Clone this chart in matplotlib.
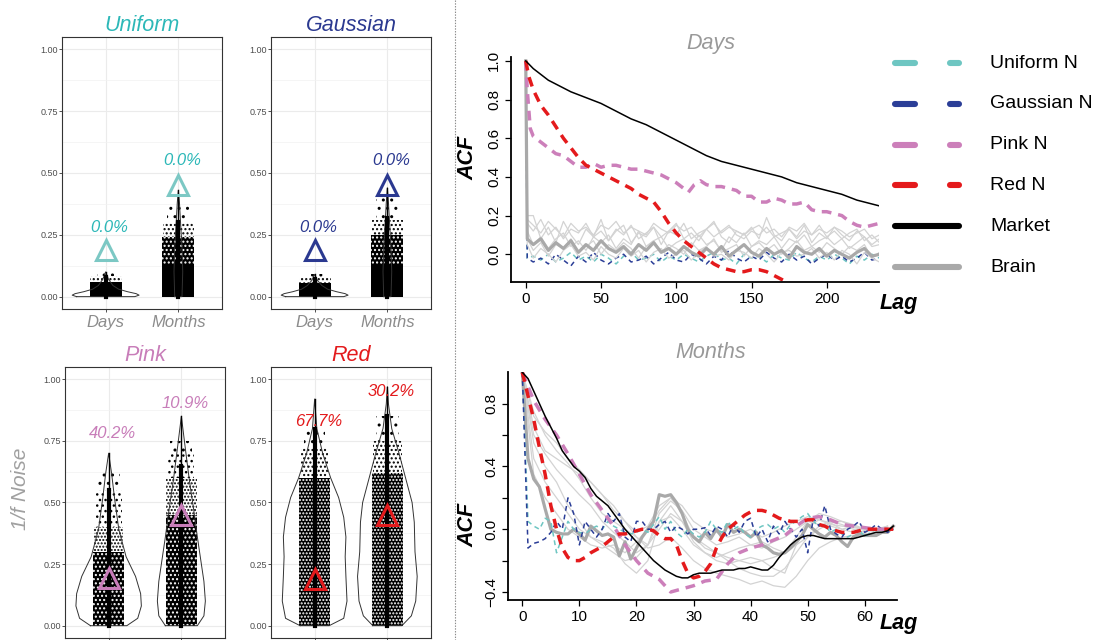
import numpy as np
import matplotlib
matplotlib.use("Agg")
import matplotlib.pyplot as plt
from matplotlib.patches import Rectangle

plt.rcParams['font.family'] = ['Liberation Sans', 'DejaVu Sans']
plt.rcParams['lines.scale_dashes'] = False
plt.rcParams['hatch.linewidth'] = 1.0

# ---------------- violin panels (left) ----------------
noise_names = ['Uniform', 'Gaussian', 'Pink', 'Red']
scales = ['Days', 'Months']
title_colors = ['#2DB8B8', '#2B3990', '#C87DB9', '#E31A1C']
marker_colors = ['#7CC8C4', '#2B3990', '#C87DB9', '#E31A1C']

pct_text = [['0.0%', '0.0%'], ['0.0%', '0.0%'], ['40.2%', '10.9%'], ['67.7%', '30.2%']]
pct_y = [[0.28, 0.55], [0.28, 0.55], [0.78, 0.90], [0.83, 0.95]]
market_y = [[0.19, 0.45], [0.19, 0.45], [0.195, 0.45], [0.19, 0.45]]
col_max = [[0.10, 0.43], [0.09, 0.44], [0.70, 0.85], [0.92, 0.97]]
col_dense = [[0.08, 0.30], [0.07, 0.32], [0.55, 0.65], [0.80, 0.85]]

vio_y = [
    [[0, 0.006, 0.012, 0.02, 0.03, 0.045, 0.07, 0.10], [0, 0.1, 0.2, 0.3, 0.38, 0.43]],
    [[0, 0.006, 0.012, 0.02, 0.03, 0.045, 0.065, 0.09], [0, 0.1, 0.2, 0.3, 0.38, 0.44]],
    [[0, 0.03, 0.08, 0.13, 0.2, 0.28, 0.39, 0.52, 0.62, 0.70],
     [0, 0.04, 0.1, 0.18, 0.26, 0.36, 0.47, 0.59, 0.73, 0.85]],
    [[0, 0.03, 0.1, 0.2, 0.28, 0.36, 0.44, 0.52, 0.6, 0.7, 0.8, 0.92],
     [0, 0.04, 0.1, 0.2, 0.3, 0.42, 0.5, 0.6, 0.7, 0.8, 0.9, 0.97]],
]
vio_hw = [
    [[0.40, 0.46, 0.42, 0.30, 0.18, 0.10, 0.04, 0.0], [0.05, 0.06, 0.05, 0.03, 0.015, 0.0]],
    [[0.40, 0.46, 0.42, 0.30, 0.18, 0.10, 0.04, 0.0], [0.05, 0.06, 0.05, 0.03, 0.015, 0.0]],
    [[0.25, 0.40, 0.45, 0.44, 0.37, 0.24, 0.14, 0.08, 0.04, 0.0],
     [0.22, 0.31, 0.33, 0.31, 0.27, 0.22, 0.17, 0.11, 0.05, 0.0]],
    [[0.20, 0.40, 0.445, 0.43, 0.42, 0.43, 0.40, 0.33, 0.22, 0.11, 0.03, 0.0],
     [0.20, 0.33, 0.39, 0.41, 0.38, 0.37, 0.34, 0.25, 0.16, 0.06, 0.015, 0.0]],
]

# jittered point clouds summarised as bands: edges, jitter half width, texture
# texture: 's' solid, 'wN' black with white gaps, 'bN' black dots on white (N = density)
cloud_edges = [
    [[0, 0.06, 0.085, 0.10], [0, 0.13, 0.24, 0.30, 0.38]],
    [[0, 0.055, 0.075, 0.09], [0, 0.13, 0.25, 0.31, 0.40]],
    [[0, 0.30, 0.40, 0.55, 0.63], [0, 0.45, 0.60, 0.70, 0.75]],
    [[0, 0.60, 0.72, 0.80], [0, 0.62, 0.75, 0.85]],
]
cloud_hw = [
    [[0.22, 0.22, 0.12], [0.22, 0.22, 0.21, 0.15]],
    [[0.22, 0.22, 0.12], [0.22, 0.22, 0.21, 0.15]],
    [[0.21, 0.20, 0.18, 0.15], [0.21, 0.21, 0.18, 0.15]],
    [[0.21, 0.19, 0.14], [0.21, 0.20, 0.16]],
]
cloud_tex = [
    [['s', 'b4', 'b2'], ['s', 'w4', 'b4', 'b2']],
    [['s', 'b4', 'b2'], ['s', 'w4', 'b4', 'b2']],
    [['w4', 'b5', 'b3', 'b2'], ['w4', 'b5', 'b3', 'b2']],
    [['w5', 'b4', 'b2'], ['w5', 'b4', 'b2']],
]

# ---------------- ACF data ----------------
# Days
mkt_d_lag = [0, 5, 10, 15, 20, 25, 30, 40, 50, 60, 70, 80, 90, 100, 110, 120, 130, 140, 150,
             160, 170, 180, 190, 200, 210, 220, 235]
mkt_d = [1.0, 0.96, 0.93, 0.90, 0.88, 0.86, 0.84, 0.81, 0.78, 0.74, 0.70, 0.67, 0.63, 0.59,
         0.55, 0.51, 0.48, 0.46, 0.44, 0.42, 0.40, 0.37, 0.35, 0.33, 0.31, 0.28, 0.25]
pink_d_lag = [0, 1, 2, 3, 5, 10, 15, 20, 25, 30, 35, 40, 45, 50, 55, 60, 65, 70, 75, 80, 85, 90,
              95, 100, 105, 108, 112, 116, 120, 125, 130, 135, 140, 145, 150, 155, 160, 165, 170,
              175, 180, 185, 190, 195, 200, 205, 210, 215, 220, 225, 230, 235]
pink_d = [1.0, 0.85, 0.75, 0.65, 0.61, 0.58, 0.55, 0.52, 0.51, 0.48, 0.45, 0.45, 0.47, 0.45,
          0.46, 0.46, 0.45, 0.44, 0.44, 0.43, 0.42, 0.41, 0.39, 0.37, 0.34, 0.32, 0.36, 0.38,
          0.36, 0.35, 0.35, 0.34, 0.33, 0.30, 0.30, 0.27, 0.27, 0.29, 0.28, 0.26, 0.26, 0.27,
          0.23, 0.22, 0.22, 0.21, 0.20, 0.17, 0.15, 0.14, 0.15, 0.16]
red_d_lag = [0, 2, 5, 10, 15, 20, 25, 30, 35, 40, 45, 50, 55, 60, 65, 70, 75, 80, 85, 90, 95,
             100, 105, 110, 115, 120, 125, 130, 135, 140, 145, 150, 155, 160, 165, 170, 175, 180]
red_d = [1.0, 0.92, 0.85, 0.77, 0.72, 0.66, 0.60, 0.55, 0.50, 0.46, 0.44, 0.42, 0.40, 0.38,
         0.36, 0.34, 0.31, 0.29, 0.27, 0.22, 0.16, 0.11, 0.07, 0.04, 0.01, -0.02, -0.05, -0.07,
         -0.08, -0.09, -0.09, -0.08, -0.08, -0.09, -0.11, -0.13, -0.15, -0.17]

# lags 0, 1, then every 5 up to 235
brain_d_light = [
    [1.0, 0.16, 0.12, 0.18, 0.10, 0.14, 0.08, 0.13, 0.11, 0.16, 0.09, 0.12,
     0.07, 0.13, 0.10, 0.15, 0.08, 0.11, 0.14, 0.09, 0.12, 0.10,
     0.16, 0.08, 0.11, 0.13, 0.09, 0.12, 0.15, 0.10, 0.08, 0.12,
     0.10, 0.14, 0.09, 0.11, 0.13, 0.08, 0.12, 0.10, 0.15, 0.09,
     0.12, 0.08, 0.11, 0.13, 0.07, 0.10, 0.06],
    [1.0, 0.12, 0.05, 0.09, 0.03, 0.08, 0.11, 0.04, 0.07, 0.02, 0.09, 0.06,
     0.10, 0.03, 0.08, 0.05, 0.12, 0.04, 0.07, 0.09, 0.03, 0.06,
     0.08, 0.04, 0.10, 0.05, 0.07, 0.02, 0.09, 0.06, 0.11, 0.04,
     0.07, 0.05, 0.09, 0.03, 0.08, 0.06, 0.10, 0.04, 0.07, 0.09,
     0.05, 0.08, 0.03, 0.06, 0.09, 0.04, 0.05],
    [1.0, 0.20, 0.20, 0.08, 0.14, 0.06, 0.17, 0.10, 0.05, 0.13, 0.09, 0.18,
     0.07, 0.12, 0.15, 0.06, 0.11, 0.09, 0.14, 0.05, 0.12, 0.16,
     0.08, 0.11, 0.07, 0.13, 0.17, 0.09, 0.06, 0.12, 0.10, 0.14,
     0.08, 0.19, 0.10, 0.07, 0.13, 0.09, 0.15, 0.06, 0.11, 0.08,
     0.14, 0.10, 0.07, 0.12, 0.09, 0.05, 0.08],
    [1.0, 0.08, 0.02, 0.06, -0.01, 0.05, 0.03, 0.08, 0.01, 0.04, 0.07, 0.00,
     0.05, 0.02, 0.06, 0.03, -0.02, 0.04, 0.07, 0.01, 0.05, 0.03,
     0.00, 0.06, 0.02, 0.04, 0.08, 0.01, 0.03, 0.05, -0.01, 0.04,
     0.06, 0.02, 0.05, 0.00, 0.03, 0.07, 0.02, 0.04, 0.01, 0.06,
     0.03, 0.00, 0.04, 0.02, 0.05, -0.02, 0.01],
    [1.0, 0.18, 0.15, 0.11, 0.17, 0.13, 0.09, 0.16, 0.12, 0.14, 0.10, 0.15,
     0.13, 0.17, 0.11, 0.14, 0.12, 0.10, 0.16, 0.13, 0.11, 0.15,
     0.12, 0.14, 0.09, 0.13, 0.16, 0.11, 0.14, 0.12, 0.10, 0.13,
     0.15, 0.11, 0.13, 0.09, 0.14, 0.12, 0.16, 0.10, 0.13, 0.11,
     0.14, 0.12, 0.09, 0.11, 0.13, 0.08, 0.10],
    [1.0, 0.05, -0.02, 0.03, 0.00, -0.04, 0.02, 0.05, -0.01, 0.01, -0.03, 0.04,
     0.00, -0.02, 0.03, -0.01, 0.02, -0.04, 0.01, 0.03, -0.02, 0.00,
     0.02, -0.03, 0.01, 0.04, -0.01, 0.00, -0.03, 0.02, 0.01, -0.02,
     0.03, 0.00, -0.04, 0.01, 0.02, -0.01, 0.00, 0.03, -0.02, 0.01,
     -0.03, 0.02, 0.00, -0.05, 0.01, -0.02, -0.04],
]
brain_d = [1.0, 0.08, 0.05, 0.08, 0.02, 0.06, 0.03, 0.07, 0.01, 0.05, 0.02, 0.07,
           0.03, 0.01, 0.04, 0.00, 0.05, 0.02, 0.06, 0.01, 0.03, 0.00,
           0.04, 0.01, -0.01, 0.03, 0.00, 0.04, -0.01, 0.02, 0.05, 0.01,
           -0.01, 0.03, 0.00, 0.02, -0.02, 0.04, 0.01, 0.00, 0.03, -0.01,
           0.02, 0.00, -0.02, 0.01, 0.03, -0.01, 0.00]
gauss_d = [1.0, -0.02, -0.04, -0.02, -0.05, 0.00, -0.03, -0.06, -0.01, -0.04, 0.01, -0.03,
           -0.05, -0.02, 0.00, -0.04, -0.03, -0.01, -0.05, -0.02, 0.01, -0.03,
           -0.04, 0.00, -0.02, -0.05, -0.01, -0.03, 0.02, -0.02, -0.04, -0.01,
           -0.03, 0.01, -0.02, -0.04, 0.00, -0.03, -0.01, -0.05, -0.02, 0.00,
           -0.03, -0.01, -0.04, -0.02, 0.01, -0.03, -0.02]
unif_d = [1.0, -0.02, -0.01, -0.03, 0.00, -0.04, -0.02, 0.01, -0.03, -0.01, -0.04, 0.00,
          -0.02, -0.05, -0.01, 0.01, -0.03, -0.02, 0.00, -0.04, -0.01, -0.03,
          0.00, -0.02, -0.04, -0.01, 0.01, -0.03, -0.02, -0.05, 0.00, -0.02,
          -0.01, -0.04, 0.00, -0.02, -0.03, 0.01, -0.02, -0.04, -0.01, -0.03,
          0.00, -0.02, -0.05, -0.01, -0.03, 0.00, -0.02]

# Months (lags 0..65 unless noted)
mkt_m = [1.00, 0.96, 0.88, 0.80, 0.72, 0.65, 0.58, 0.50, 0.45, 0.40,
         0.37, 0.33, 0.26, 0.21, 0.18, 0.15, 0.10, 0.05, 0.00, -0.04,
         -0.08, -0.12, -0.16, -0.20, -0.23, -0.26, -0.28, -0.30, -0.31, -0.31,
         -0.29, -0.28, -0.28, -0.28, -0.27, -0.26, -0.26, -0.26, -0.25, -0.25,
         -0.24, -0.25, -0.26, -0.26, -0.23, -0.18, -0.14, -0.10, -0.07, -0.05,
         -0.04, -0.04, -0.05, -0.06, -0.06, -0.06, -0.06, -0.06, -0.06, -0.05,
         -0.04, -0.03, -0.02, -0.02, -0.01, 0.02]
red_m = [1.00, 0.85, 0.70, 0.52, 0.35, 0.15, 0.00, -0.12, -0.18, -0.20,
         -0.20, -0.18, -0.15, -0.13, -0.11, -0.08, -0.05, -0.03, -0.03, -0.02,
         -0.01, 0.00, 0.00, -0.01, -0.04, -0.06, -0.06, -0.10, -0.20, -0.28,
         -0.31, -0.30, -0.27, -0.22, -0.12, -0.05, 0.00, 0.03, 0.06, 0.09,
         0.11, 0.12, 0.12, 0.11, 0.09, 0.07, 0.06, 0.05, 0.05, 0.05,
         0.06, 0.06, 0.03, 0.02, 0.00, -0.01, -0.02, -0.02, -0.02, -0.01,
         0.00, 0.00, 0.00, 0.00, 0.00, 0.00]
gauss_m = [1.00, -0.12, -0.09, -0.08, -0.06, -0.02, 0.05, 0.00, 0.20, 0.10,
           -0.10, 0.05, 0.00, -0.05, 0.00, 0.10, 0.05, 0.10, -0.05, -0.08,
           0.05, 0.05, 0.00, 0.00, 0.03, 0.05, -0.02, 0.02, 0.00, -0.03,
           0.00, 0.00, 0.01, -0.04, 0.02, 0.00, -0.05, 0.03, -0.02, 0.05,
           0.07, -0.05, 0.00, -0.08, 0.02, -0.03, 0.05, 0.00, -0.05, 0.00,
           -0.15, 0.07, 0.02, 0.15, 0.00, -0.03, -0.05, 0.00, 0.02, 0.05,
           -0.02, 0.00, 0.03, 0.00, -0.02, 0.00]
unif_m = [1.00, 0.05, 0.02, 0.00, 0.07, 0.05, -0.15, -0.05, 0.05, 0.00,
          -0.02, -0.03, 0.00, 0.02, 0.00, 0.05, 0.02, 0.00, -0.02, -0.03,
          -0.02, 0.00, -0.02, 0.03, 0.08, 0.00, 0.05, -0.02, -0.05, 0.00,
          -0.03, -0.05, -0.02, 0.05, 0.00, -0.02, 0.05, 0.00, 0.02, -0.03,
          -0.05, 0.00, 0.02, 0.03, 0.00, 0.02, -0.02, 0.03, 0.05, 0.08,
          0.10, 0.05, 0.02, 0.03, -0.02, 0.00, -0.03, -0.05, -0.03, 0.00,
          -0.05, -0.02, 0.00, 0.00, 0.00, 0.00]
brain_m = [1.00, 0.45, 0.32, 0.27, 0.13, 0.00, -0.02, -0.03, -0.03, 0.00,
           -0.03, -0.07, 0.02, -0.01, -0.04, -0.03, -0.05, -0.17, -0.08, -0.19,
           -0.12, -0.05, 0.00, 0.05, 0.22, 0.21, 0.22, 0.17, 0.10, 0.00,
           -0.05, -0.08, -0.02, -0.06, 0.00, -0.05, 0.03, -0.02, 0.00, -0.02,
           -0.05, -0.02, -0.10, -0.12, -0.15, -0.16, -0.15, -0.12, -0.08, -0.04,
           0.03, 0.00, -0.03, -0.05, -0.02, -0.04, -0.08, -0.11, -0.05, -0.03,
           -0.04, -0.04, -0.04, -0.02, -0.02, 0.02]
# even lags 0..64
pink_m = [1.0, 0.82, 0.70, 0.60, 0.48, 0.35, 0.22, 0.12, 0.02, -0.10, -0.20, -0.28, -0.32,
          -0.40, -0.38, -0.36, -0.33, -0.32, -0.22, -0.15, -0.12, -0.10, -0.07, -0.04, 0.02,
          0.07, 0.08, 0.06, 0.03, 0.02, 0.01, 0.00, 0.00]
brain_m_light = [
    [1.0, 0.72, 0.62, 0.55, 0.45, 0.38, 0.3, 0.22, 0.12, 0.05,
     -0.05, -0.12, -0.1, -0.05, -0.12, -0.2, -0.25, -0.28, -0.3, -0.32,
     -0.35, -0.33, -0.36, -0.37, -0.3, -0.2, -0.12, -0.08, -0.05, -0.04, -0.04, -0.03, 0.0],
    [1.0, 0.65, 0.5, 0.45, 0.4, 0.35, 0.3, 0.22, 0.15, 0.05,
     -0.02, 0.02, 0.15, 0.2, 0.1, -0.05, -0.12, -0.15, -0.2, -0.25,
     -0.28, -0.3, -0.3, -0.25, -0.15, -0.05, 0.02, 0.05, 0.03, 0.0, -0.02, 0.0, 0.01],
    [1.0, 0.45, 0.3, 0.2, 0.1, 0.0, -0.05, -0.1, -0.15, -0.2,
     -0.18, -0.1, 0.1, 0.18, 0.12, 0.0, -0.05, -0.1, -0.08, -0.05,
     -0.1, -0.12, -0.08, -0.05, 0.0, 0.05, 0.03, 0.02, 0.0, 0.02, -0.01, 0.0, 0.02],
    [1.0, 0.55, 0.4, 0.3, 0.15, 0.05, -0.05, -0.08, -0.12, -0.22,
     -0.28, -0.2, 0.05, 0.15, 0.05, -0.08, -0.15, -0.2, -0.22, -0.2,
     -0.18, -0.2, -0.25, -0.28, -0.1, 0.02, 0.06, 0.04, 0.0, -0.02, -0.03, -0.02, 0.0],
    [1.0, 0.75, 0.6, 0.5, 0.42, 0.32, 0.2, 0.1, 0.05, 0.0,
     -0.05, -0.1, 0.0, 0.1, 0.05, -0.05, -0.1, -0.15, -0.18, -0.2,
     -0.22, -0.2, -0.18, -0.15, -0.1, -0.05, 0.0, 0.04, 0.05, 0.03, 0.0, 0.0, 0.01],
    [1.0, 0.35, 0.2, 0.1, 0.0, -0.05, -0.1, -0.12, -0.1, -0.15,
     -0.08, 0.0, 0.12, 0.2, 0.15, 0.05, 0.0, -0.02, -0.05, -0.03,
     0.0, -0.05, -0.02, 0.02, 0.05, 0.08, 0.06, 0.03, 0.02, 0.01, 0.0, -0.01, 0.02],
    [1.0, 0.6, 0.48, 0.38, 0.3, 0.22, 0.15, 0.05, -0.02, -0.08,
     -0.15, -0.1, 0.05, 0.08, 0.0, -0.1, -0.15, -0.18, -0.15, -0.12,
     -0.1, -0.08, -0.12, -0.15, -0.05, 0.05, 0.1, 0.08, 0.05, 0.02, 0.0, -0.02, -0.01],
]

legend_names = ['Uniform N', 'Gaussian N', 'Pink N', 'Red N', 'Market', 'Brain']

C_UNIF = '#6EC6C2'
C_GAUSS = '#2B3E97'
C_PINK = '#CC7FBA'
C_RED = '#E41A1C'
C_BRAIN = '#A9A9A9'
C_LIGHT = '#D3D3D3'
legend_colors = [C_UNIF, C_GAUSS, C_PINK, C_RED, 'black', C_BRAIN]
legend_dashed = [True, True, True, True, False, False]

W, H = 1120, 640
fig = plt.figure(figsize=(W / 100, H / 100), dpi=100)


def px_box(l, t, r, b):
    return [l / W, 1 - b / H, (r - l) / W, (b - t) / H]


violin_boxes = [px_box(62, 37, 222, 309), px_box(271, 37, 431, 309),
                px_box(65, 367, 225, 638), px_box(271, 367, 431, 638)]

for i, name in enumerate(noise_names):
    ax = fig.add_axes(violin_boxes[i])
    ax.set_xlim(0.4, 2.6)
    ax.set_ylim(-0.05, 1.05)
    ax.set_yticks([0, 0.25, 0.5, 0.75, 1.0])
    ax.set_yticklabels(['0.00', '0.25', '0.50', '0.75', '1.00'])
    ax.set_yticks([0.125, 0.375, 0.625, 0.875], minor=True)
    ax.set_xticks([1, 2])
    ax.grid(True, which='major', color='#EBEBEB', lw=0.8)
    ax.grid(True, which='minor', axis='y', color='#F2F2F2', lw=0.5)
    ax.set_axisbelow(True)
    for s in ax.spines.values():
        s.set_color('#333333')
        s.set_linewidth(0.8)
    ax.tick_params(axis='y', which='major', labelsize=6.5, labelcolor='#4D4D4D',
                   color='#333333', length=2, width=0.6, pad=1)
    ax.tick_params(axis='y', which='minor', length=0)
    ax.tick_params(axis='x', color='#333333', length=2, width=0.6, pad=2)
    if i < 2:
        ax.set_xticklabels(scales, fontsize=12, style='italic', color='#8C8C8C')
    else:
        ax.set_xticklabels([])
    ax.set_title(name, fontsize=15.5, style='italic', color=title_colors[i], pad=4.3)

    for j in range(2):
        xc = j + 1
        vy = np.array(vio_y[i][j])
        vw = np.array(vio_hw[i][j])
        # jittered points, drawn as textured bands
        e = cloud_edges[i][j]
        for k in range(len(e) - 1):
            hw = cloud_hw[i][j][k]
            tex = cloud_tex[i][j][k]
            xy, wd, ht = (xc - hw, e[k]), 2 * hw, e[k + 1] - e[k]
            if tex == 's':
                p = Rectangle(xy, wd, ht, facecolor='black', edgecolor='none')
            elif tex[0] == 'w':
                p = Rectangle(xy, wd, ht, facecolor='black', edgecolor='white', lw=0,
                              hatch='.' * int(tex[1:]))
            else:
                p = Rectangle(xy, wd, ht, facecolor='none', edgecolor='black', lw=0,
                              hatch='.' * int(tex[1:]))
            p.set_zorder(2)
            ax.add_patch(p)
        # violin outline
        ax.plot(np.r_[xc - vw, (xc + vw)[::-1], xc - vw[0]],
                np.r_[vy, vy[::-1], vy[0]], color='#333333', lw=0.7, zorder=3)
        # central column
        ax.plot([xc, xc], [0, col_max[i][j]], color='black', lw=1.0, zorder=3)
        ax.plot([xc, xc], [0, col_dense[i][j]], color='black', lw=3.0, zorder=3)
        # median marker and percentage
        ax.plot(xc, market_y[i][j], marker='^', ms=15, mfc='none',
                mec=marker_colors[i], mew=2.2, zorder=4)
        ax.text(xc + 0.05, pct_y[i][j], pct_text[i][j], fontsize=12, style='italic',
                color=title_colors[i], ha='center', va='center', zorder=5)


# ---------------- ACF panels (right) ----------------
def acf_axes(box, xlim, ylim):
    ax = fig.add_axes(box)
    ax.set_xlim(*xlim)
    ax.set_ylim(*ylim)
    ax.spines['top'].set_visible(False)
    ax.spines['right'].set_visible(False)
    for s in ('left', 'bottom'):
        ax.spines[s].set_linewidth(1.3)
    ax.tick_params(direction='out', length=4, width=0.9, labelsize=11, pad=3)
    return ax


dash_thick = (0, (7, 5))
dash_thin = (0, (3.5, 2.8))

ax_d = acf_axes(px_box(511, 57, 879, 282.3), (-9.8, 234.7), (-0.145, 1.02))
ax_d.set_xticks([0, 50, 100, 150, 200])
ax_d.set_yticks([0.0, 0.2, 0.4, 0.6, 0.8, 1.0])
ax_d.set_yticklabels(['0.0', '0.2', '0.4', '0.6', '0.8', '1.0'], rotation=90, va='center')

lag_d5 = np.r_[0, 1, 5 * np.arange(1, len(brain_d) - 1)]
ax_d.plot(lag_d5, unif_d, color=C_UNIF, lw=1.1, ls=dash_thin)
ax_d.plot(lag_d5, gauss_d, color=C_GAUSS, lw=1.1, ls=dash_thin)
for ser in brain_d_light:
    ax_d.plot(lag_d5, ser, color=C_LIGHT, lw=0.9)
ax_d.plot(lag_d5, brain_d, color=C_BRAIN, lw=2.3)
ax_d.plot(pink_d_lag, pink_d, color=C_PINK, lw=2.5, ls=dash_thick)
ax_d.plot(red_d_lag, red_d, color=C_RED, lw=2.5, ls=dash_thick)
ax_d.plot(mkt_d_lag, mkt_d, color='black', lw=1.1)

ax_m = acf_axes(px_box(507.7, 372.3, 896.7, 600), (-2.56, 65.6), (-0.451, 1.0))
ax_m.set_xticks([0, 10, 20, 30, 40, 50, 60])
ax_m.set_yticks([-0.4, -0.2, 0.0, 0.2, 0.4, 0.6, 0.8])
ax_m.set_yticklabels(['\u22120.4', '', '0.0', '', '0.4', '', '0.8'], rotation=90, va='center')

lag_m1 = np.arange(len(mkt_m))
lag_m2 = 2 * np.arange(len(pink_m))
for ser in brain_m_light:
    ax_m.plot(lag_m2, ser, color=C_LIGHT, lw=0.9)
ax_m.plot(lag_m1, brain_m, color=C_BRAIN, lw=2.3)
ax_m.plot(lag_m1, unif_m, color=C_UNIF, lw=1.1, ls=dash_thin)
ax_m.plot(lag_m1, gauss_m, color=C_GAUSS, lw=1.1, ls=dash_thin)
ax_m.plot(lag_m2, pink_m, color=C_PINK, lw=2.5, ls=dash_thick)
ax_m.plot(lag_m1, red_m, color=C_RED, lw=2.5, ls=dash_thick)
ax_m.plot(lag_m1, mkt_m, color='black', lw=1.1)

# ---------------- overlay: labels, separator, legend ----------------
ov = fig.add_axes([0, 0, 1, 1], facecolor='none')
ov.set_xlim(0, W)
ov.set_ylim(H, 0)
ov.axis('off')

ov.plot([454.7, 454.7], [0, H], color='#8C8C8C', lw=0.8, ls=(0, (1, 1)))
ov.text(20, 489, '1/f Noise', rotation=90, fontsize=15, style='italic',
        color='#A0A0A0', ha='center', va='center')
ov.text(711, 43, 'Days', fontsize=15.5, style='italic', color='#999999', ha='center', va='center')
ov.text(711, 353, 'Months', fontsize=15.5, style='italic', color='#999999', ha='center', va='center')
for yy in (158, 525):
    ov.text(468, yy, 'ACF', rotation=90, fontsize=15.5, fontweight='bold', style='italic',
            ha='center', va='center')
for yy in (303, 623):
    ov.text(899, yy, 'Lag', fontsize=15.5, fontweight='bold', style='italic',
            ha='center', va='center')

for k, nm in enumerate(legend_names):
    yy = 63 + k * 40.8
    if legend_dashed[k]:
        ov.plot([895, 959], [yy, yy], color=legend_colors[k], lw=4.4,
                ls=(0, (14.4, 25.2)), dash_capstyle='round')
    else:
        ov.plot([895, 959], [yy, yy], color=legend_colors[k], lw=4.4,
                solid_capstyle='round')
    ov.text(990, yy, nm, fontsize=14, ha='left', va='center')

fig.savefig('out.png', dpi=100)
